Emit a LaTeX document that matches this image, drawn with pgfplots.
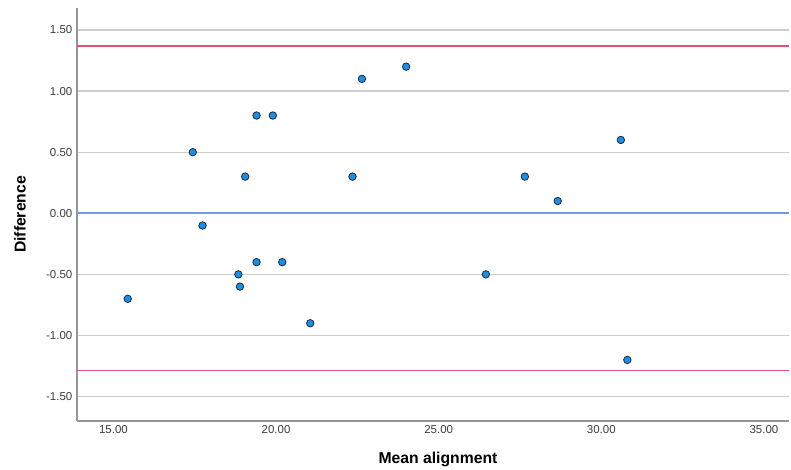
\documentclass[border=0pt]{standalone}
\usepackage{fontspec}
\setmainfont{Liberation Sans}
\usepackage{pgfplots}
\pgfplotsset{compat=1.18}
\definecolor{ptfill}{RGB}{28,142,228}
\definecolor{ptedge}{RGB}{30,40,55}
\definecolor{limred}{RGB}{232,78,112}
\definecolor{meanblue}{RGB}{110,155,225}
\definecolor{gridgray}{RGB}{205,205,205}
\definecolor{axgray}{RGB}{150,150,150}
\definecolor{ticktext}{RGB}{60,60,60}
\begin{document}
\begin{tikzpicture}
\begin{axis}[
  scale only axis,
  width=534pt, height=309.75pt,
  xmin=13.88, xmax=35.77,
  ymin=-1.70, ymax=1.68,
  axis x line*=bottom, axis y line*=left,
  axis line style={draw=axgray, line width=1.2pt},
  xtick={15,20,25,30,35},
  ytick={-1.5,-1,-0.5,0,0.5,1,1.5},
  major tick length=0pt,
  ymajorgrids,
  grid style={draw=gridgray, line width=0.9pt},
  /pgf/number format/assume math mode=true,
  xticklabel style={/pgf/number format/.cd, fixed, fixed zerofill, precision=2},
  yticklabel style={/pgf/number format/.cd, fixed, fixed zerofill, precision=2},
  tick label style={font=\fontsize{8.6}{10}\selectfont, text=ticktext},
  xlabel={\textbf{Mean alignment}},
  ylabel={\textbf{Difference}},
  label style={font=\fontsize{11.8}{14}\selectfont},
  xlabel style={at={(axis description cs:0.507,-0.092)}, anchor=center},
  ylabel style={at={(axis description cs:-0.080,0.5)}, anchor=center},
]
\addplot[draw=limred, line width=1.15pt, mark=none, forget plot] coordinates {(13.88,1.371) (24.8,1.371) (35.77,1.371)};
\addplot[draw=limred, line width=1.15pt, mark=none, forget plot] coordinates {(13.88,-1.288) (24.8,-1.288) (35.77,-1.288)};
\addplot[draw=meanblue, line width=1.15pt, mark=none, forget plot] coordinates {(13.88,0.001) (24.8,0.001) (35.77,0.001)};
\addplot[only marks, mark=*, mark size=2.8pt,
  mark options={fill=ptfill, draw=ptedge, line width=0.6pt}]
  coordinates {
  (17.44,0.5) (17.74,-0.1) (19.05,0.3) (19.40,0.8) (19.90,0.8)
  (22.35,0.3) (22.64,1.1) (24.00,1.2) (30.60,0.6) (27.65,0.3)
  (28.66,0.1) (15.44,-0.7) (18.84,-0.5) (18.89,-0.6) (19.40,-0.4)
  (20.19,-0.4) (21.05,-0.9) (26.45,-0.5) (30.80,-1.2)
  };
\end{axis}
\pgfresetboundingbox
\path[use as bounding box] (-57.75pt,-36.75pt) rectangle (535.5pt,315.75pt);
\end{tikzpicture}
\end{document}
